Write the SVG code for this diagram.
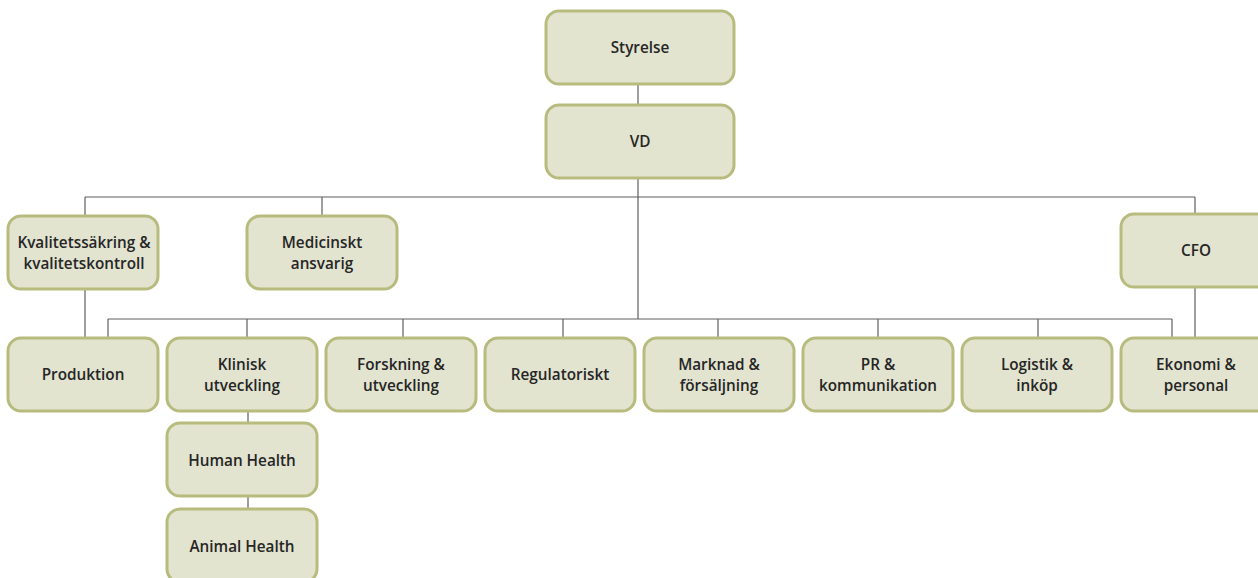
<svg xmlns="http://www.w3.org/2000/svg" width="1258" height="578" viewBox="0 0 1258 578">
<style>
.box{fill:#e2e4cf;stroke:#b7bb7d;stroke-width:3}
.lbl{font-family:"Open Sans","Liberation Sans",sans-serif;font-size:15.3px;font-weight:600;fill:#262626;text-anchor:middle}
.con{stroke:#5f5f5f;stroke-width:1.2;fill:none}
</style>
<rect width="1258" height="578" fill="#ffffff"/>
<g id="connectors">
<path class="con" d="M638 84V105M638 178V319M85 197H1195M85 197V216M322 197V216M1195 197V214"/>
<path class="con" d="M108 319H1172M108 319V338M247 319V338M403 319V338M563 319V338M718 319V338M878 319V338M1038 319V338M1172 319V338"/>
<path class="con" d="M85 289V338M1195 287V338M248 411V423M248 496V509"/>
</g>
<g id="styrelse"><rect class="box" x="546" y="11" width="188" height="73" rx="13"/><text class="lbl" x="640" y="53">Styrelse</text></g>
<g id="vd"><rect class="box" x="546" y="105" width="188" height="73" rx="13"/><text class="lbl" x="640" y="147">VD</text></g>
<g id="kvalitet"><rect class="box" x="8" y="216" width="150" height="73" rx="13"/><text class="lbl" x="84" y="248">Kvalitetssäkring &amp;</text><text class="lbl" x="84" y="269">kvalitetskontroll</text></g>
<g id="medicinskt"><rect class="box" x="247" y="216" width="150" height="73" rx="13"/><text class="lbl" x="322" y="248">Medicinskt</text><text class="lbl" x="322" y="269">ansvarig</text></g>
<g id="cfo"><rect class="box" x="1121" y="214" width="150" height="73" rx="13"/><text class="lbl" x="1196" y="256">CFO</text></g>
<g id="produktion"><rect class="box" x="8" y="338" width="150" height="73" rx="13"/><text class="lbl" x="83" y="380">Produktion</text></g>
<g id="klinisk"><rect class="box" x="167" y="338" width="150" height="73" rx="13"/><text class="lbl" x="242" y="370">Klinisk</text><text class="lbl" x="242" y="391">utveckling</text></g>
<g id="forskning"><rect class="box" x="326" y="338" width="150" height="73" rx="13"/><text class="lbl" x="401" y="370">Forskning &amp;</text><text class="lbl" x="401" y="391">utveckling</text></g>
<g id="regulatoriskt"><rect class="box" x="485" y="338" width="150" height="73" rx="13"/><text class="lbl" x="560" y="380">Regulatoriskt</text></g>
<g id="marknad"><rect class="box" x="644" y="338" width="150" height="73" rx="13"/><text class="lbl" x="719" y="370">Marknad &amp;</text><text class="lbl" x="719" y="391">försäljning</text></g>
<g id="pr"><rect class="box" x="803" y="338" width="150" height="73" rx="13"/><text class="lbl" x="878" y="370">PR &amp;</text><text class="lbl" x="878" y="391">kommunikation</text></g>
<g id="logistik"><rect class="box" x="962" y="338" width="150" height="73" rx="13"/><text class="lbl" x="1037" y="370">Logistik &amp;</text><text class="lbl" x="1037" y="391">inköp</text></g>
<g id="ekonomi"><rect class="box" x="1121" y="338" width="150" height="73" rx="13"/><text class="lbl" x="1196" y="370">Ekonomi &amp;</text><text class="lbl" x="1196" y="391">personal</text></g>
<g id="human"><rect class="box" x="167" y="423" width="150" height="73" rx="13"/><text class="lbl" x="242" y="466">Human Health</text></g>
<g id="animal"><rect class="box" x="167" y="509" width="150" height="73" rx="13"/><text class="lbl" x="242" y="552">Animal Health</text></g>
</svg>
